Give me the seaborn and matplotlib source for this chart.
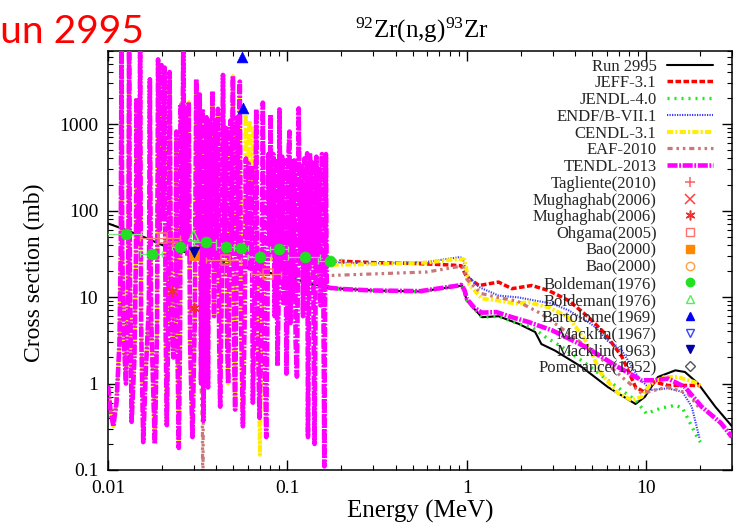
import numpy as np
import matplotlib
matplotlib.use("Agg")
import matplotlib.pyplot as plt
import seaborn as sns
from matplotlib.ticker import FixedLocator, FixedFormatter, LogLocator, NullFormatter
from matplotlib.lines import Line2D

# ------------------------------------------------------------------ data
title_text = r"$^{\mathrm{92}}$Zr(n,g)$^{\mathrm{93}}$Zr"
x_label = "Energy (MeV)"
y_label = "Cross section (mb)"
overlay_text = "Run 2995"
x_ticks = [0.01, 0.1, 1, 10]
x_tick_labels = ["0.01", "0.1", "1", "10"]
y_ticks = [0.1, 1, 10, 100, 1000]
y_tick_labels = ["0.1", "1", "10", "100", "1000"]

# resolved-resonance region (TENDL-2013 shape, MeV / mb)
res_E = [0.01000, 0.01032, 0.01070, 0.01115, 0.01159, 0.01178, 0.01189, 0.01201, 0.01227, 0.01259,
         0.01288, 0.01300, 0.01311, 0.01325, 0.01354, 0.01404, 0.01431, 0.01442, 0.01468, 0.01496,
         0.01510, 0.01529, 0.01571, 0.01626, 0.01690, 0.01711, 0.01738, 0.01824, 0.01876, 0.01901,
         0.01945, 0.01990, 0.02029, 0.02068, 0.02095, 0.02127, 0.02168, 0.02205, 0.02245, 0.02312,
         0.02381, 0.02405, 0.02436, 0.02480, 0.02522, 0.02544, 0.02584, 0.02627, 0.02671, 0.02712,
         0.02765, 0.02818, 0.02866, 0.02955, 0.03043, 0.03102, 0.03170, 0.03244, 0.03299, 0.03354,
         0.03397, 0.03467, 0.03539, 0.03608, 0.03678, 0.03749, 0.03821, 0.03896, 0.03972, 0.04033,
         0.04100, 0.04164, 0.04217, 0.04299, 0.04372, 0.04456, 0.04543, 0.04613, 0.04672, 0.04751,
         0.04812, 0.04885, 0.04968, 0.05045, 0.05110, 0.05195, 0.05262, 0.05344, 0.05426, 0.05517,
         0.05646, 0.05770, 0.05867, 0.05957, 0.06072, 0.06190, 0.06310, 0.06415, 0.06556, 0.06701,
         0.06813, 0.06989, 0.07171, 0.07291, 0.07432, 0.07615, 0.07743, 0.07823, 0.07924, 0.08047,
         0.08182, 0.08340, 0.08491, 0.08645, 0.08799, 0.08935, 0.09027, 0.09191, 0.09357, 0.09527,
         0.09698, 0.09873, 0.1004, 0.1013, 0.1026, 0.1039, 0.1052, 0.1072, 0.1091, 0.1111,
         0.1129, 0.1144, 0.1155, 0.1176, 0.1199, 0.1221, 0.1243, 0.1266, 0.1288, 0.1301,
         0.1318, 0.1335, 0.1359, 0.1384, 0.1402, 0.1416, 0.1434, 0.1449, 0.1475, 0.1502,
         0.1529, 0.1557, 0.1585, 0.1605, 0.1622, 0.1638, 0.1655]
res_xs = [0.95, 0.5, 0.32, 0.6, 3, 40, 9000, 30, 3, 1.0,
          6, 60, 9000, 20, 0.36, 2, 30, 2000, 40, 60,
          9000, 5, 0.21, 1.5, 8, 3300, 6, 0.2, 4, 5600,
          60, 4800, 80, 4500, 4, 0.33, 5, 4000, 8, 2,
          20, 820, 3, 0.18, 4, 1700, 50, 9000, 40, 1500,
          30, 1800, 3, 0.24, 5, 3300, 40, 2200, 1.0, 1500,
          0.37, 8, 1200, 0.9, 1100, 30, 2400, 6, 1100, 20,
          1500, 3, 0.54, 10, 3700, 40, 900, 3, 1.0, 20,
          1100, 40, 3600, 2, 0.5, 15, 1200, 30, 3100, 5,
          0.32, 5, 400, 30, 350, 20, 330, 0.6, 10, 1480,
          5, 0.4, 6, 1770, 4, 0.24, 8, 450, 40, 1300,
          30, 450, 6, 400, 1.6, 10, 1480, 20, 420, 8,
          380, 1.3, 15, 450, 820, 5, 400, 10, 380, 3,
          1.2, 20, 1520, 25, 350, 6, 400, 12, 460, 0.24,
          10, 460, 25, 380, 2, 0.2, 10, 420, 20, 300,
          8, 450, 12, 0.11, 15, 450, 12.9]

run_E = [0.01, 0.0125, 0.016, 0.02, 0.025, 0.03, 0.05, 0.1, 0.165, 0.3,
         0.55, 0.9, 0.94, 1.0, 1.21, 1.5, 1.94, 2.4, 2.6, 3.1,
         4.37, 6.1, 8.7, 9.8, 11.6, 14.5, 16.4, 19.4, 24.2, 30]
run_xs = [71, 60, 49, 40, 34.5, 31, 24, 17, 12.8, 11.9,
          11.6, 13.4, 13.5, 9.1, 5.85, 6.0, 4.9, 3.94, 2.86, 2.4,
          1.55, 0.91, 0.58, 0.7, 1.19, 1.42, 1.36, 1.0, 0.54, 0.32]

jeff_E = [0.158, 0.2, 0.3, 0.5, 0.8, 0.93, 0.96, 1.0, 1.17, 1.5, 1.78, 2.3,
          2.85, 3.69, 4.76, 5.87, 7.3, 8.7, 9.7, 11.1, 13.2, 16.4, 20]
jeff_xs = [25.5, 26, 25, 24.5, 23.5, 23, 20, 16.9, 13.6, 14.9, 12.5, 13.6,
           11.9, 9.1, 5.85, 3.8, 2.05, 0.91, 0.8, 1.04, 0.95, 0.95, 0.95]

jendl_E = [0.158, 0.3, 0.55, 0.9, 0.94, 1.0, 1.21, 1.5, 1.94, 2.3, 2.74,
           3.4, 4.6, 6.1, 8.7, 10, 12.1, 14.5, 15.9, 17.9, 19.4, 20]
jendl_xs = [12.6, 11.9, 11.5, 13.4, 13.5, 9.1, 5.85, 6.0, 4.9, 4.5, 3.45,
            2.64, 1.7, 1.09, 0.64, 0.45, 0.52, 0.56, 0.52, 0.32, 0.23, 0.21]

endf_E = [0.158, 0.3, 0.6, 0.9, 0.945, 1.0, 1.17, 1.5, 1.94, 2.4, 3.0,
          3.69, 4.6, 5.2, 6.1, 7.3, 9.0, 10.6, 13.2, 15.9, 17.9, 19.8]
endf_xs = [25, 24.5, 25.5, 28.8, 28.5, 18, 13.0, 10.4, 9.9, 9.1, 8.4,
           7.0, 5.35, 4.5, 3.1, 2.4, 1.19, 0.84, 0.88, 0.8, 0.54, 0.23]

cendl_res_end = 0.0552
cendl_E = [0.0560, 0.0584, 0.0599, 0.0615, 0.0631, 0.0647, 0.0666, 0.0689, 0.0702, 0.0718,
           0.0737, 0.09, 0.12, 0.165, 0.3, 0.6, 0.9, 0.97, 1.03, 1.21,
           1.5, 1.86, 2.2, 2.85, 3.69, 4.6, 5.6, 6.96, 8.3, 9.4,
           10.6, 12.6, 14.9, 18.5, 20]
cendl_xs = [0.5, 1300, 200, 1100, 150, 900, 300, 2, 0.15, 3,
            30, 25, 24, 23.5, 24, 25, 27.5, 27, 14, 9.6,
            9.1, 8.4, 8.7, 7.6, 5.85, 3.1, 1.3, 0.77, 0.64, 0.7,
            1.0, 1.19, 1.19, 1.04, 0.95]

eaf_res_end = 0.0333
eaf_E = [0.0336, 0.03375, 0.0339, 0.0350, 0.08, 0.165, 0.3, 0.6, 0.9, 0.95,
         1.0, 1.2, 1.45, 1.9, 2.6, 3.69, 5.2, 7.3, 9.4, 11.5, 13.2, 17, 20]
eaf_xs = [0.3, 0.02, 0.3, 18, 18.5, 17.7, 18.5, 19.5, 22.5, 22,
          16, 11, 10, 9, 6.4, 3.8, 2.22, 1.19, 0.77, 0.85, 0.91, 0.77, 0.5]

tendl_E = [0.2, 0.3, 0.55, 0.9, 0.93, 0.97, 1.0, 1.1, 1.21, 1.46, 1.78,
           2.2, 3.0, 4.6, 6.96, 9.4, 11, 13.2, 16.4, 20.3, 26, 30]
tendl_xs = [12.4, 11.9, 11.7, 13.6, 13.8, 12, 9.5, 7.5, 6.6, 6.7, 5.85,
            5.15, 4.1, 2.64, 1.55, 1.09, 1.09, 1.14, 0.91, 0.54, 0.35, 0.24]

# experimental data
tagliente_E, tagliente_xs = [0.0230], [42.8]
mugh_x_E, mugh_x_xs = [], []
mugh_ast_E, mugh_ast_xs = [0.0228, 0.0300], [11.9, 7.4]
ohgama_E, ohgama_xs, ohgama_dE = [0.0201, 0.0452, 0.0775], [48, 26.9, 18.5], [0.005, 0.01, 0.015]
bao_sq_E, bao_sq_xs = [0.0300], [30.5]
bao_ci_E, bao_ci_xs = [], []
bold_E = [0.0126, 0.0176, 0.0251, 0.0350, 0.0452, 0.0553, 0.0706, 0.0901, 0.126, 0.173]
bold_xs = [53.6, 31.5, 38.2, 43.3, 38.2, 37.3, 28.8, 36.4, 28.8, 26.3]
bold_dE = [0.0027, 0.0025, 0.0025, 0.005, 0.005, 0.005, 0.01, 0.01, 0.025, 0.025]
bold_tri_E, bold_tri_xs = [0.0300], [51]
bart_E, bart_xs = [0.0557, 0.0564], [5970, 1541]
mack67_E, mack67_xs = [], []
mack63_E, mack63_xs = [0.0300], [32.8]
pom_E, pom_xs = [], []

# ------------------------------------------------------------------ style
sns.set_theme(style="ticks")
plt.rcParams["font.family"] = ["Liberation Serif", "DejaVu Serif"]
plt.rcParams["mathtext.fontset"] = "custom"
plt.rcParams["mathtext.rm"] = "Liberation Serif"
plt.rcParams["mathtext.it"] = "Liberation Serif:italic"
plt.rcParams["axes.edgecolor"] = "black"
plt.rcParams["axes.linewidth"] = 1.1

fig = plt.figure(figsize=(7.38, 5.26), dpi=100)
ax = fig.add_axes([108 / 738, 1 - 470 / 526, 624 / 738, 419 / 526])
ax.set_xscale("log")
ax.set_yscale("log")

rE = np.array(res_E)
rX = np.array(res_xs)
m_c = rE < cendl_res_end
m_e = rE < eaf_res_end

series = [
    ("Run 2995", run_E, run_xs, "black", 1.5, "-", 2.0),
    ("JEFF-3.1", jeff_E, jeff_xs, "#ff0000", 2.5, (0, (1.6, 0.7)), 2.1),
    ("JENDL-4.0", jendl_E, jendl_xs, "#1ee81e", 2.4, (0, (0.6, 1.5)), 2.2),
    ("ENDF/B-VII.1", endf_E, endf_xs, "#3a3aff", 1.5, (0, (0.6, 0.6)), 2.3),
    ("CENDL-3.1", list(rE[m_c]) + cendl_E, list(rX[m_c]) + cendl_xs, "#ffee00", 2.8, (0, (1.6, 0.55, 0.55, 0.55)), 2.4),
    ("EAF-2010", list(rE[m_e]) + eaf_E, list(rX[m_e]) + eaf_xs, "#c87878", 2.3, (0, (1.6, 1.2, 0.8, 1.2, 0.8, 1.2)), 2.5),
    ("TENDL-2013", res_E + tendl_E, res_xs + tendl_xs, "#ff00ff", 3.3, (0, (2.2, 0.35, 0.4, 0.35)), 2.6),
]

handles, labels = [], []
for lab, E, xs, col, lw, ls, z in series:
    sns.lineplot(x=E, y=xs, ax=ax, estimator=None, sort=False, color=col,
                 linewidth=lw, linestyle=ls, zorder=z, legend=False)
    handles.append(ax.lines[-1])
    labels.append(lab)

# error bars
ax.errorbar(bold_E, bold_xs, xerr=bold_dE, fmt="none", ecolor="#7fe67f",
            elinewidth=0.9, capsize=2, zorder=4)
ax.errorbar(ohgama_E, ohgama_xs, xerr=ohgama_dE, fmt="none", ecolor="#ff8080",
            elinewidth=0.9, capsize=2, zorder=4)

points = [
    ("Tagliente(2010)", tagliente_E, tagliente_xs, "+", "#ff6060", 50, "line"),
    ("Mughaghab(2006)", mugh_x_E, mugh_x_xs, "x", "#ff4040", 40, "line"),
    ("Mughaghab(2006)", mugh_ast_E, mugh_ast_xs, (6, 2, 0), "#ee3030", 50, "line"),
    ("Ohgama(2005)", ohgama_E, ohgama_xs, "s", "#ff7070", 50, "hollow"),
    ("Bao(2000)", bao_sq_E, bao_sq_xs, "s", "#ff8800", 50, "filled"),
    ("Bao(2000)", bao_ci_E, bao_ci_xs, "o", "#ffa040", 45, "hollow"),
    ("Boldeman(1976)", bold_E, bold_xs, "o", "#22e022", 62, "filled"),
    ("Boldeman(1976)", bold_tri_E, bold_tri_xs, "^", "#55ee55", 55, "hollow"),
    ("Bartolome(1969)", bart_E, bart_xs, "^", "#0000ff", 60, "filled"),
    ("Macklin(1967)", mack67_E, mack67_xs, "v", "#3344ff", 50, "hollow"),
    ("Macklin(1963)", mack63_E, mack63_xs, "v", "#0000aa", 60, "filled"),
    ("Pomerance(1952)", pom_E, pom_xs, "D", "#555555", 35, "hollow"),
]

legend_ms = 6.0
for lab, E, xs, mk, col, s, kind in points:
    if len(E) > 0:
        if kind == "line":
            kw = dict(color=col, edgecolor=None, linewidth=1.2)
        elif kind == "hollow":
            kw = dict(facecolor="none", edgecolor=col, linewidth=1.1)
        else:
            kw = dict(color=col, edgecolor=col, linewidth=0.5)
        sns.scatterplot(x=E, y=xs, ax=ax, marker=mk, s=s, zorder=6, legend=False, **kw)
    ms = legend_ms * (0.85 if mk == "D" else 1.0)
    if kind == "hollow":
        h = Line2D([], [], ls="none", marker=mk, markersize=ms, markerfacecolor="none",
                   markeredgecolor=col, markeredgewidth=1.0)
    elif kind == "line":
        h = Line2D([], [], ls="none", marker=mk, markersize=ms + 1, color=col, markeredgewidth=1.1)
    else:
        h = Line2D([], [], ls="none", marker=mk, markersize=ms, color=col)
    handles.append(h)
    labels.append(lab)

# ------------------------------------------------------------------ axes
ax.set_xlim(0.01, 30)
ax.set_ylim(0.1, 7000)
ax.xaxis.set_major_locator(FixedLocator(x_ticks))
ax.xaxis.set_major_formatter(FixedFormatter(x_tick_labels))
ax.yaxis.set_major_locator(FixedLocator(y_ticks))
ax.yaxis.set_major_formatter(FixedFormatter(y_tick_labels))
ax.xaxis.set_minor_locator(LogLocator(base=10, subs=(2, 3, 4, 5, 6, 7, 8, 9)))
ax.yaxis.set_minor_locator(LogLocator(base=10, subs=(2, 3, 4, 5, 6, 7, 8, 9)))
ax.xaxis.set_minor_formatter(NullFormatter())
ax.yaxis.set_minor_formatter(NullFormatter())
ax.tick_params(which="both", direction="in", top=True, right=True, color="black", labelcolor="black")
ax.tick_params(which="major", length=7, width=1.0, labelsize=14, pad=7)
ax.tick_params(which="minor", length=3.5, width=0.8)
for sp in ax.spines.values():
    sp.set_color("black")
    sp.set_linewidth(1.1)

ax.set_xlabel(x_label, fontsize=18, labelpad=2, color="black")
ax.set_ylabel(y_label, fontsize=17, color="black")
ax.yaxis.set_label_coords(-0.101, 0.47)

fig.text(422 / 738, 1 - 38 / 526, title_text, fontsize=18, ha="center", va="baseline", color="black")
fig.text(-24 / 738, 1 - 43 / 526, overlay_text, fontsize=28, color="#ff0000",
         family=["Lato", "DejaVu Sans"], ha="left", va="baseline")

leg = ax.legend(handles, labels, loc="upper right", bbox_to_anchor=(0.97, 0.982),
                frameon=False, fontsize=12, markerfirst=False, handlelength=2.8,
                handletextpad=0.6, labelspacing=0.045, borderpad=0, borderaxespad=0)
leg.set_zorder(10)

fig.savefig("out.png", dpi=100)
